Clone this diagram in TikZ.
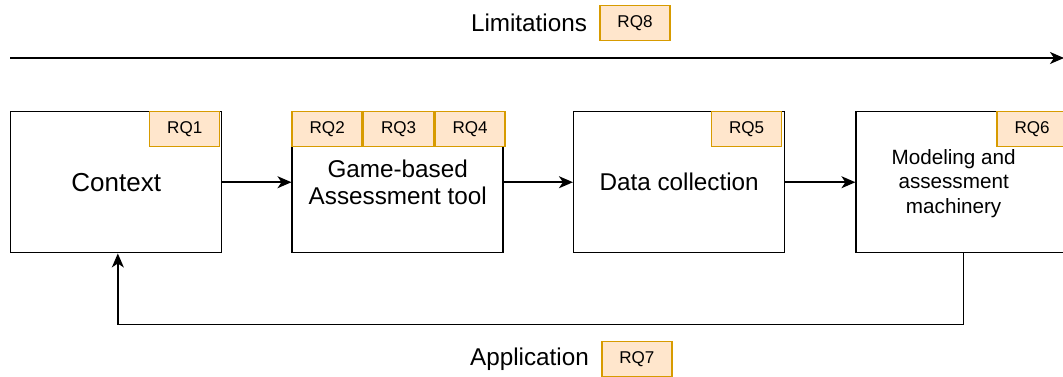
\documentclass[tikz,border=0pt]{standalone}
\usepackage{fontspec}
\setmainfont{Liberation Sans}
\usepackage{xcolor}
\usetikzlibrary{arrows.meta, positioning}

\definecolor{rqfill}{HTML}{FFE6CC}
\definecolor{rqline}{HTML}{D79B00}

\begin{document}
\begin{tikzpicture}[x=0.75pt, y=-0.75pt,
    node distance=51.75pt,
    stage/.style={draw, line width=1.1pt, minimum width=158.25pt, minimum height=105.75pt,
      inner sep=0pt, align=center, font=\fontsize{18.2}{20.3}\selectfont},
    rq/.style={draw=rqline, fill=rqfill, line width=1.1pt, minimum width=52.5pt,
      minimum height=26.25pt, inner sep=0pt, font=\fontsize{12.8}{14}\selectfont},
    caption/.style={font=\fontsize{18.2}{20.3}\selectfont, inner sep=0pt},
    flow/.style={-{Stealth[length=10.5pt, width=9pt, inset=3pt]}, line width=1.1pt},
  ]
  \useasboundingbox (0,0) rectangle (1063,377);

  % Stages
  \node[stage, anchor=north west, font=\fontsize{19.5}{22}\selectfont] (ctx) at (10,111) {Context};
  \node[stage, right=of ctx] (game) {Game-based\\Assessment tool};
  \node[stage, right=of game] (data) {Data collection};
  \node[stage, right=52.5pt of data] (mod) {};
  \node[align=center, inner sep=0pt, font=\fontsize{15.5}{18.4}\selectfont]
    (modtext) at ([xshift=-6pt, yshift=-1pt]mod.center) {Modeling and\\assessment\\machinery};

  % Research questions
  \node[rq, anchor=north east] (rq1) at ([xshift=-1.5pt]ctx.north east) {RQ1};
  \node[rq, anchor=north west] (rq2) at (game.north west) {RQ2};
  \node[rq, right=0pt of rq2] (rq3) {RQ3};
  \node[rq, right=0pt of rq3] (rq4) {RQ4};
  \node[rq, anchor=north east] (rq5) at ([xshift=-2.25pt]data.north east) {RQ5};
  \node[rq, anchor=north east] (rq6) at (mod.north east) {RQ6};

  % Limitations
  \node[caption] (lim) at (529,23) {Limitations};
  \node[rq, right=9pt of lim] (rq8) {RQ8};
  \coordinate (limstart) at (10,58);
  \coordinate (limend) at (1064,58);
  \draw[flow] (limstart) -- (limend);

  % Application
  \node[caption] (app) at (529.5,359) {Application};
  \node[rq, right=9pt of app] (rq7) {RQ7};

  % Draw arrows
  \foreach \a/\b in {ctx/game, game/data, data/mod} {
    \draw[flow] (\a.east) -- (\b.west);
  }
  \draw[flow] ([xshift=1.2pt]mod.south) -- ++(0,71) -| ([xshift=1.2pt]ctx.south);
\end{tikzpicture}
\end{document}
